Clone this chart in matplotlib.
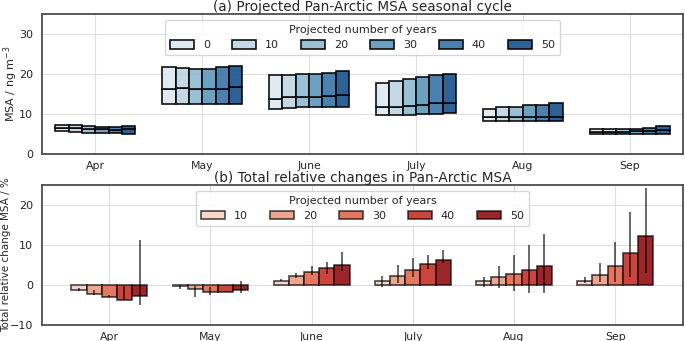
import numpy as np
import matplotlib
matplotlib.use('Agg')
import matplotlib.pyplot as plt
import seaborn as sns

months = ['Apr', 'May', 'June', 'July', 'Aug', 'Sep']
years_a = [0, 10, 20, 30, 40, 50]
years_b = [10, 20, 30, 40, 50]

# (a) seasonal cycle: lower quartile, median, upper quartile per month (rows) and projection (cols)
msa_q25 = np.array([
    [5.7, 5.6, 5.4, 5.35, 5.2, 5.1],
    [12.5, 12.5, 12.5, 12.5, 12.5, 12.5],
    [11.3, 11.6, 11.8, 11.8, 11.9, 11.9],
    [9.7, 9.7, 9.8, 10.0, 10.1, 10.2],
    [8.4, 8.4, 8.4, 8.4, 8.4, 8.4],
    [5.1, 5.1, 5.1, 5.1, 5.1, 5.1],
])
msa_med = np.array([
    [6.6, 6.5, 6.3, 6.2, 6.1, 6.3],
    [16.4, 16.6, 16.3, 16.2, 16.3, 16.7],
    [13.9, 14.2, 14.3, 14.3, 14.6, 14.75],
    [11.75, 11.9, 12.1, 12.3, 12.75, 12.9],
    [9.2, 9.2, 9.2, 9.25, 9.3, 9.4],
    [5.6, 5.6, 5.6, 5.8, 5.9, 6.0],
])
msa_q75 = np.array([
    [7.4, 7.2, 7.0, 6.9, 6.9, 7.1],
    [21.7, 21.5, 21.3, 21.3, 21.8, 22.1],
    [19.7, 19.9, 20.0, 20.1, 20.4, 20.7],
    [17.9, 18.25, 18.7, 19.2, 19.7, 20.0],
    [11.4, 11.7, 11.9, 12.2, 12.4, 12.7],
    [6.2, 6.25, 6.25, 6.3, 6.6, 7.0],
])

# (b) total relative change (%) with lower / upper ends of the error bars
change = np.array([
    [-1.2, -2.2, -3.1, -3.75, -2.75],
    [-0.25, -1.1, -1.8, -1.65, -1.3],
    [1.1, 2.25, 3.25, 4.25, 5.0],
    [0.9, 2.3, 3.8, 5.2, 6.25],
    [0.9, 1.9, 2.8, 3.8, 4.75],
    [1.1, 2.6, 4.7, 7.9, 12.25],
])
change_lo = np.array([
    [-1.6, -2.6, -2.9, -3.75, -5.0],
    [-1.1, -2.9, -2.6, -1.8, -1.9],
    [1.1, 1.8, 2.6, 2.7, 3.6],
    [-0.4, 0.4, 2.1, 4.0, 5.4],
    [-0.4, -0.8, -1.5, -2.1, -2.1],
    [0.4, 0.8, 0.8, 2.1, 2.9],
])
change_hi = np.array([
    [-0.8, -1.25, -2.5, -0.25, 11.25],
    [0.0, -0.25, -0.4, -1.4, 1.1],
    [1.4, 3.1, 4.75, 5.8, 8.25],
    [2.25, 5.0, 6.7, 7.6, 8.75],
    [2.1, 4.75, 7.5, 10.0, 12.75],
    [1.9, 5.4, 10.8, 18.3, 24.2],
])

sns.set_style('whitegrid', {'axes.edgecolor': '.3', 'grid.color': '.87'})
plt.rcParams['font.family'] = ['DejaVu Sans']
plt.rcParams['text.color'] = '.15'
plt.rcParams['axes.labelcolor'] = '.15'
plt.rcParams['xtick.color'] = '.15'
plt.rcParams['ytick.color'] = '.15'

blues = [sns.desaturate(c, 0.75) for c in sns.color_palette('Blues', len(years_a))]
reds = [sns.desaturate(c, 0.75) for c in sns.color_palette('Reds', len(years_b))]
edge = (0, 0, 0, 0.7)

fig = plt.figure(figsize=(6.85, 3.41), dpi=100)
ax1 = fig.add_axes([0.0613, 0.548, 0.9358, 0.4106])
ax2 = fig.add_axes([0.0613, 0.047, 0.9358, 0.4106])

x = np.arange(len(months))

leg_kw = dict(title='Projected number of years', loc='upper center', fontsize=8,
              title_fontsize=8, handlelength=2.15, handleheight=0.85,
              columnspacing=2.0, handletextpad=0.8, borderpad=0.45,
              labelspacing=0.45)

# --- (a) ---
w = 0.125
for i, yr in enumerate(years_a):
    pos = x + (i - 2.5) * w
    ax1.bar(pos, msa_med[:, i] - msa_q25[:, i], w, bottom=msa_q25[:, i],
            color=blues[i], alpha=0.93, edgecolor=edge, linewidth=1.2,
            label=str(yr), zorder=3)
    ax1.bar(pos, msa_q75[:, i] - msa_med[:, i], w, bottom=msa_med[:, i],
            color=blues[i], alpha=0.93, edgecolor=edge, linewidth=1.2, zorder=3)
ax1.set_xlim(-0.5, 5.5)
ax1.set_ylim(0, 35)
ax1.set_yticks([0, 10, 20, 30])
ax1.set_xticks(x)
ax1.set_xticklabels(months)
ax1.set_ylabel('MSA / ng m$^{-3}$', fontsize=8)
ax1.yaxis.set_label_coords(-0.035, 0.5)
ax1.set_title('(a) Projected Pan-Arctic MSA seasonal cycle', fontsize=9.8, pad=2)
ax1.legend(ncol=6, **leg_kw)

# --- (b) ---
w = 0.15
for i, yr in enumerate(years_b):
    pos = x + (i - 2) * w
    ax2.bar(pos, change[:, i], w, color=reds[i], edgecolor=edge, linewidth=1.2,
            label=str(yr), zorder=3)
    ax2.vlines(pos, change_lo[:, i], change_hi[:, i], color=(0, 0, 0, 0.75),
               linewidth=1.1, zorder=4)
ax2.set_xlim(-0.665, 5.67)
ax2.set_ylim(-10, 25)
ax2.set_yticks([-10, 0, 10, 20])
ax2.set_xticks(x)
ax2.set_xticklabels(months)
ax2.set_ylabel('Total relative change MSA / %', fontsize=7.5)
ax2.yaxis.set_label_coords(-0.048, 0.5)
ax2.set_title('(b) Total relative changes in Pan-Arctic MSA', fontsize=9.8, pad=2)
ax2.legend(ncol=5, **leg_kw)

for ax in (ax1, ax2):
    ax.tick_params(axis='y', labelsize=8, pad=3)
    ax.tick_params(axis='x', labelsize=7.8, pad=1.5)
    for s in ax.spines.values():
        s.set_linewidth(1.3)

fig.savefig('out.png', dpi=100)
